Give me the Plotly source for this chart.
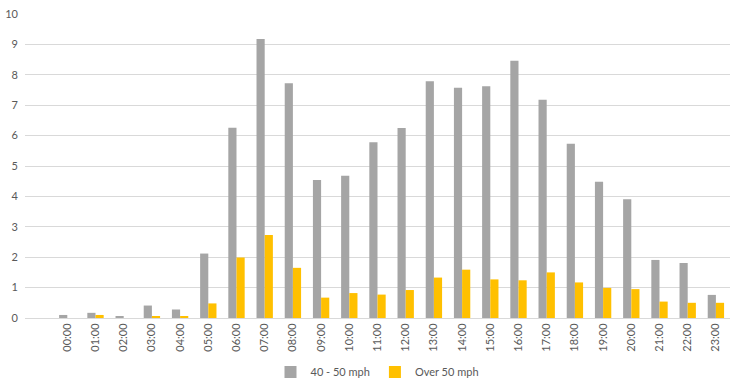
import plotly.graph_objects as go

hours = ["00:00", "01:00", "02:00", "03:00", "04:00", "05:00", "06:00", "07:00",
         "08:00", "09:00", "10:00", "11:00", "12:00", "13:00", "14:00", "15:00",
         "16:00", "17:00", "18:00", "19:00", "20:00", "21:00", "22:00", "23:00"]
speed_40_50 = [0.10, 0.17, 0.06, 0.41, 0.28, 2.12, 6.26, 9.18,
               7.72, 4.54, 4.68, 5.78, 6.25, 7.79, 7.57, 7.62,
               8.46, 7.18, 5.73, 4.48, 3.91, 1.91, 1.81, 0.76]
speed_over_50 = [0.0, 0.10, 0.0, 0.05, 0.05, 0.48, 1.99, 2.73,
                 1.65, 0.67, 0.82, 0.77, 0.92, 1.33, 1.59, 1.27,
                 1.24, 1.50, 1.17, 0.99, 0.95, 0.54, 0.50, 0.50]
y_ticks = list(range(0, 11))

fig = go.Figure()
fig.add_trace(go.Bar(x=hours, y=speed_40_50, name="40 - 50 mph",
                     marker=dict(color="#A5A5A5", line=dict(width=0))))
fig.add_trace(go.Bar(x=hours, y=speed_over_50, name="Over 50 mph",
                     marker=dict(color="#FFC000", line=dict(width=0))))

font_color = "#595959"
fig.update_layout(
    width=740, height=390,
    margin=dict(l=25, r=10, t=14, b=72, autoexpand=False),
    paper_bgcolor="white", plot_bgcolor="white",
    barmode="group", bargap=0.42, bargroupgap=0,
    font=dict(family="Lato, Liberation Sans, sans-serif", size=11, color=font_color),
    showlegend=True,
    legend=dict(orientation="h", x=0.5, xanchor="center", y=-0.178, yanchor="middle",
                font=dict(size=11, color=font_color), itemwidth=30,
                traceorder="normal"),
    xaxis=dict(type="category", range=[-1.5, 23.5], tickangle=-90, automargin=False,
               showgrid=False, showline=True, linecolor="#D9D9D9", linewidth=1,
               ticks="", tickfont=dict(size=11, color=font_color), fixedrange=True),
    yaxis=dict(range=[0, 10], tickvals=y_ticks, showgrid=True, gridcolor="#D9D9D9",
               gridwidth=1, zeroline=False, showline=False, ticks="", automargin=False,
               tickfont=dict(size=11, color=font_color), ticklabelstandoff=6,
               fixedrange=True),
)

fig.write_html("out.html", config={"displayModeBar": False},
               post_script="document.body.style.margin='0';")
